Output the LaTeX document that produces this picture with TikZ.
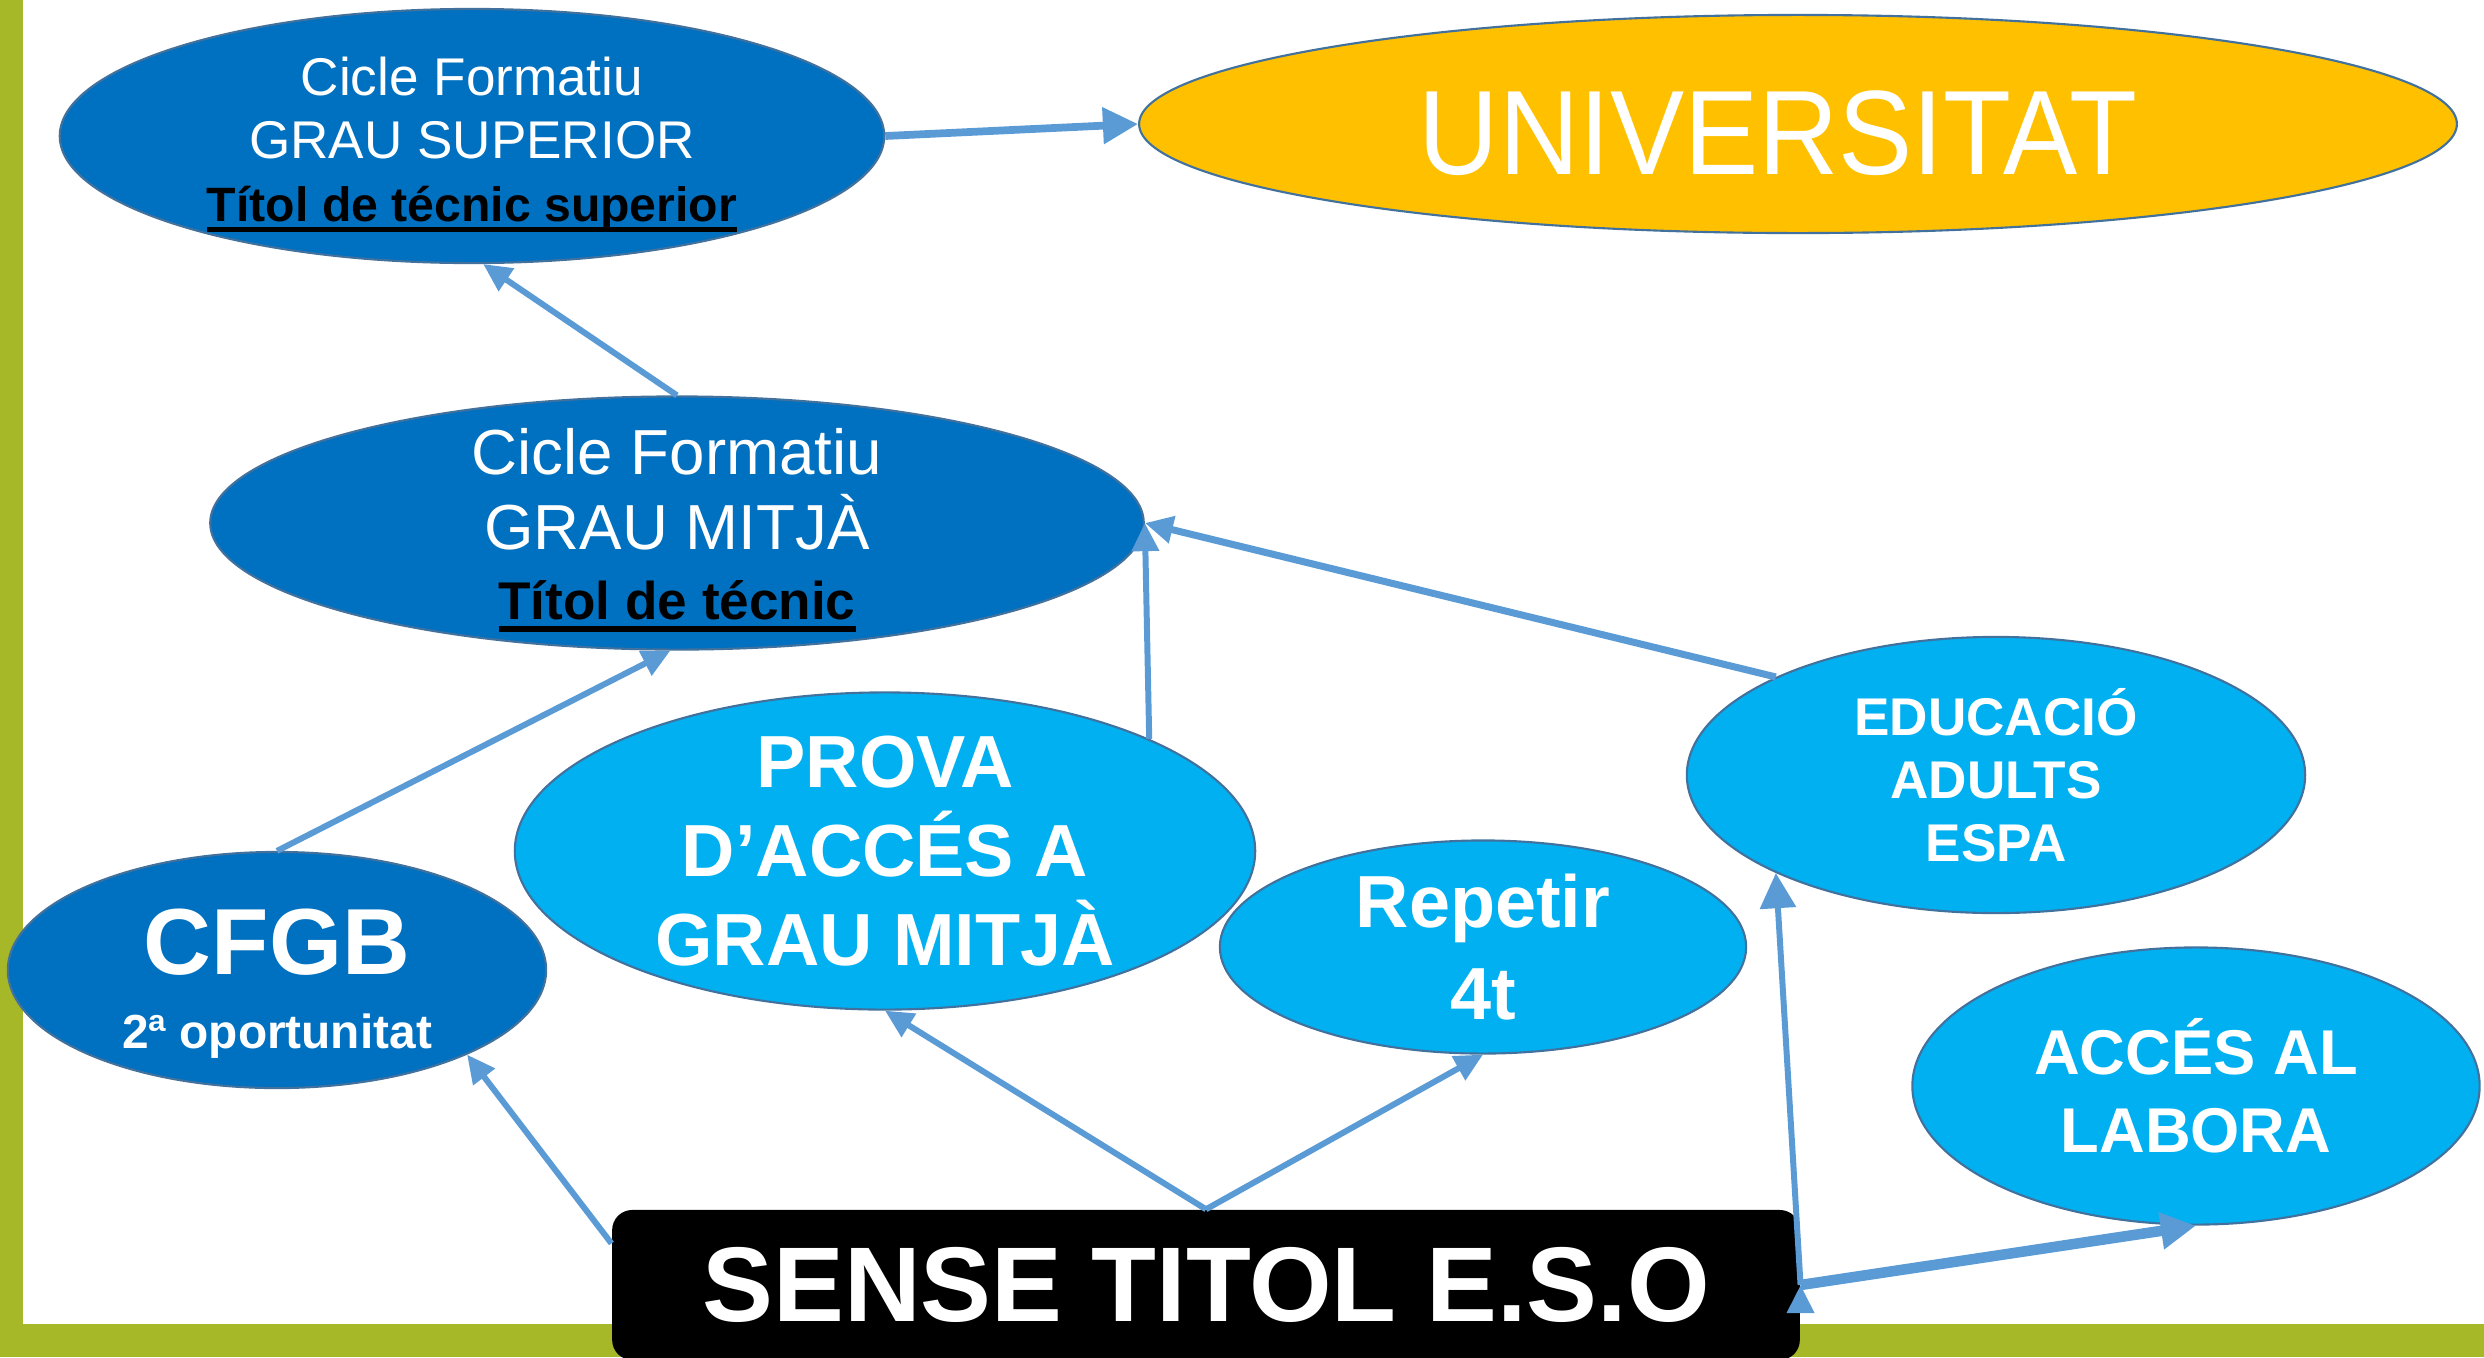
\documentclass[tikz,border=0pt]{standalone}
\usepackage{fontspec}
\setmainfont{Liberation Sans}
\usetikzlibrary{arrows.meta,shapes.geometric}

\definecolor{fosc}{HTML}{0070C0}
\definecolor{clar}{HTML}{00B0F0}
\definecolor{groc}{HTML}{FFC000}
\definecolor{vora}{HTML}{41719C}
\definecolor{fletxa}{HTML}{5B9BD5}
\definecolor{oliva}{RGB}{166,184,40}

\newsavebox{\ratllabox}
\newcommand{\ratlla}[1]{\sbox{\ratllabox}{#1}\rlap{\usebox{\ratllabox}}\rule[-0.22em]{\wd\ratllabox}{0.1em}}

\begin{document}
\begin{tikzpicture}[x=0.01cm,y=-0.01cm,
    main node/.style={ellipse,draw=vora,line width=0.6pt,inner sep=0pt,inner ysep=-10pt,align=center,text=white},
    dark node/.style={main node,fill=fosc},
    light node/.style={main node,fill=clar},
    link/.style={draw=fletxa,line width=1.7pt,-{Triangle[length=8pt,width=7.5pt,color=fletxa]}},
    big link/.style={draw=fletxa,line width=2.2pt,-{Triangle[length=10pt,width=10pt,color=fletxa]}}]
    \useasboundingbox (0,0) rectangle (2484,1357);
    \fill[oliva] (0,0) rectangle (23,1357);
    \fill[oliva] (0,1324) rectangle (2484,1357);

    \node[dark node,minimum width=8.24cm,minimum height=2.54cm,font=\fontsize{15.1}{17.9}\selectfont] (8) at (472,136)
        {\rule{0pt}{15.6pt}Cicle Formatiu\\GRAU SUPERIOR\\{\fontsize{13.7}{17.9}\selectfont\bfseries\color{black}\ratlla{Títol de técnic superior}}};
    \node[main node,fill=groc,minimum width=13.17cm,minimum height=2.18cm,font=\fontsize{31.6}{36}\selectfont] (9) at (1798,124)
        {\rule{0pt}{29.3pt}\scalebox{1}[1.08]{UNIVERSITAT}\hspace*{0.4cm}};
    \node[dark node,minimum width=9.33cm,minimum height=2.53cm,font=\fontsize{18.1}{21.3}\selectfont] (7) at (677,523)
        {\rule{0pt}{17.2pt}Cicle Formatiu\\GRAU MITJÀ\\[-1.4pt]{\fontsize{15.1}{21.3}\selectfont\bfseries\color{black}\ratlla{Títol de técnic}}};
    \node[light node,minimum width=7.40cm,minimum height=3.17cm,font=\fontsize{21}{25.3}\selectfont\bfseries] (3) at (885,851)
        {PROVA\\D’ACCÉS A\\GRAU MITJÀ};
    \node[light node,minimum width=5.26cm,minimum height=2.13cm,font=\fontsize{21}{26.2}\selectfont\bfseries] (4) at (1483,947) {Repetir\\4t};
    \node[light node,minimum width=6.18cm,minimum height=2.76cm,font=\fontsize{15.1}{17.9}\selectfont\bfseries] (5) at (1996,775)
        {EDUCACIÓ\\ADULTS\\ESPA};
    \node[light node,minimum width=5.67cm,minimum height=2.77cm,font=\fontsize{18}{22.2}\selectfont\bfseries] (6) at (2196,1086) {ACCÉS AL\\LABORA};
    \node[dark node,minimum width=5.38cm,minimum height=2.36cm,font=\fontsize{26.7}{21.1}\selectfont\bfseries] (2) at (277,970)
        {\rule{0pt}{26.3pt}CFGB\\{\fontsize{13.6}{21.1}\selectfont 2ª oportunitat}};
    \node[rectangle,rounded corners=5.7pt,fill=black,text=white,minimum width=11.87cm,minimum height=1.50cm,
        font=\fontsize{30.2}{36}\selectfont\bfseries] (1) at (1206,1285) {SENSE TITOL E.S.O};

    \path[link]
    (8.east) edge [big link] (9.west)
    (7.north) edge (8.-85)
    (2.north) edge (7.-93)
    (3.23) edge (7.east)
    (5.156) edge [line width=2pt] (7.east)
    (1.176) edge (2.-24)
    (1.north) edge (3.south)
    (1.north) edge (4.south)
    (1.east) edge [big link,line width=1.7pt] (5.204)
    (1.east) edge [big link,line width=3pt] (6.south);
\end{tikzpicture}
\end{document}
